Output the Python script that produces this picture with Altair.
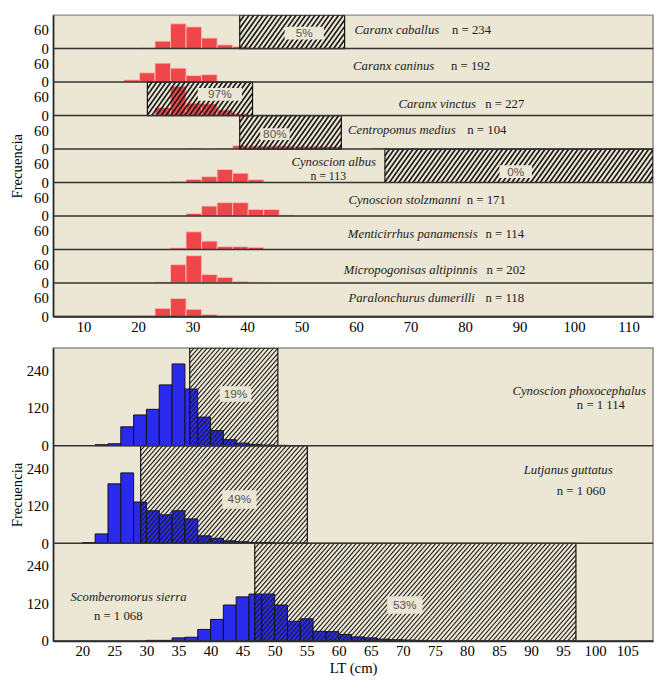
import altair as alt
import pandas as pd

FONT = "Liberation Serif"
SANS = "Liberation Sans"
BG = "#ece6d4"

# ------------------------------------------------------------------
# Upper block: nine species, LT bins of 2.85 cm
top_species = ["Caranx caballus", "Caranx caninus", "Caranx vinctus", "Centropomus medius",
               "Cynoscion albus", "Cynoscion stolzmanni", "Menticirrhus panamensis",
               "Micropogonisas altipinnis", "Paralonchurus dumerilli"]
top_n = ["n = 234", "n = 192", "n = 227", "n = 104", "n = 113", "n = 171",
         "n = 114", "n = 202", "n = 118"]
top_first_bin = [20.25, 17.4, 23.1, 28.8, 25.95, 28.8, 25.95, 23.1, 20.25]
top_counts = [
    [2, 24, 80, 70, 34, 12, 6],
    [7, 30, 61, 45, 21, 24],
    [26, 95, 40, 38, 18, 6],
    [2, 0, 2, 11, 10, 10, 10, 9, 9, 8, 0, 0, 3],
    [3, 10, 19, 42, 30, 9],
    [8, 32, 43, 43, 21, 21, 3],
    [5, 57, 27, 9, 9, 7],
    [3, 59, 88, 27, 18, 5, 2],
    [2, 26, 58, 23, 6, 2],
]
top_bin_width = 2.85
top_box_row = [0, 2, 3, 4]
top_box_from = [38.65, 21.7, 38.65, 65.3]
top_box_to = [57.9, 41.0, 57.3, 114.5]
top_box_pct = ["5%", "97%", "80%", "0%"]
top_x_ticks = [10, 20, 30, 40, 50, 60, 70, 80, 90, 100, 110]
top_freq_ticks = [0, 60]

# Lower block: three species, LT bins of 2 cm
low_species = ["Cynoscion phoxocephalus", "Lutjanus guttatus", "Scomberomorus sierra"]
low_n = ["n = 1 114", "n = 1 060", "n = 1 068"]
low_first_bin = [22, 20, 30]
low_counts = [
    [3, 6, 60, 98, 116, 194, 261, 181, 91, 48, 19, 8, 4, 2, 1],
    [2, 30, 190, 225, 132, 104, 91, 104, 78, 24, 16, 8, 5, 3, 2],
    [2, 2, 10, 12, 37, 69, 115, 141, 150, 150, 115, 63, 71, 31, 30, 21, 13, 10, 6, 4, 3, 2],
]
low_bin_width = 2
low_box_row = [0, 1, 2]
low_box_from = [36.75, 29.1, 46.9]
low_box_to = [50.5, 55.1, 97.0]
low_box_pct = ["19%", "49%", "53%"]
low_x_ticks = list(range(20, 106, 5))
low_freq_ticks = [0, 120, 240]

# ------------------------------------------------------------------
# Layout (label anchors in axis units: LT, frequency above row baseline)
top_name_at = [(67.5, 60), (66.9, 51), (74.9, 38), (68.4, 60), (55.9, 66),
               (68.9, 51), (70.4, 51), (70.0, 41), (70.2, 60)]
top_n_at = [(81.2, 60), (81.0, 51), (87.3, 38), (84.0, 60), (54.9, 22),
            (83.9, 51), (87.3, 51), (87.5, 41), (87.3, 60)]
top_pct_at = [(50.5, 50), (35.0, 68), (45.1, 48), (89.3, 35)]
top_pct_box = [(40, 13), (45, 13), (30, 12), (33, 13)]   # label box, px

low_name_at = [(97.5, 175), (95.8, 234), (27.2, 140)]
low_n_at = [(100.9, 128), (97.8, 168), (25.6, 81)]
low_pct_at = [(43.9, 165), (44.5, 140), (70.3, 115)]
low_pct_box = [(32, 16), (35, 19), (36, 18)]


def hatch_segments(lo, hi, off, px_x, row_px, R, spacing, slope):
    W = (hi - lo) * px_x
    H = row_px
    segs = []
    c = -H / slope
    while c < W:
        u0 = max(0.0, c)
        u1 = min(W, c + H / slope)
        if u1 > u0:
            segs.append(dict(x=lo + u0 / px_x, y=off + slope * (u0 - c) / H * R,
                             x2=lo + u1 / px_x, y2=off + slope * (u1 - c) / H * R))
        c += spacing
    return segs


def make_block(species, ns, first_bin, counts, binw, box_row, box_from, box_to, box_pct,
               name_at, n_at, pct_at, pct_box, R, W, row_px, xdom, xticks, yticks,
               bar_fill, bar_stroke, bar_sw, hatch_space, hatch_slope, hatch_w,
               xtitle, ytitle_pad, n_sizes, xlabel_pad, xtitle_pad):
    nrows = len(species)
    H = row_px * nrows
    px_x = W / (xdom[1] - xdom[0])
    px_y = row_px / R
    offs = [(nrows - 1 - i) * R for i in range(nrows)]

    bar_rows = []
    for i, (s0, cs) in enumerate(zip(first_bin, counts)):
        for k, c in enumerate(cs):
            if c > 0:
                x = s0 + k * binw
                bar_rows.append(dict(x=x, x2=x + binw, y=offs[i], y2=offs[i] + c))

    box_rows, hatch_rows, bg_rows, pct_rows = [], [], [], []
    for j, r in enumerate(box_row):
        box_rows.append(dict(x=box_from[j], x2=box_to[j], y=offs[r], y2=offs[r] + R))
        hatch_rows += hatch_segments(box_from[j], box_to[j], offs[r], px_x, row_px, R,
                                     hatch_space, hatch_slope)
        w, h = pct_box[j]
        cx, cy = pct_at[j][0], offs[r] + pct_at[j][1]
        bg_rows.append(dict(x=cx - w / 2 / px_x, x2=cx + w / 2 / px_x,
                            y=cy - h / 2 / px_y, y2=cy + h / 2 / px_y))
        pct_rows.append(dict(x=cx, y=cy, t=box_pct[j]))

    name_rows = [dict(x=name_at[i][0], y=offs[i] + name_at[i][1], t=species[i]) for i in range(nrows)]
    n_rows = [dict(x=n_at[i][0], y=offs[i] + n_at[i][1], t=ns[i], s=n_sizes[i]) for i in range(nrows)]

    xs = alt.Scale(domain=list(xdom), nice=False, zero=False)
    ys = alt.Scale(domain=[0, nrows * R], nice=False, zero=False)
    xaxis = alt.Axis(values=xticks, ticks=False, grid=False, labelFont=FONT, labelFontSize=15,
                     labelColor="black", labelPadding=xlabel_pad, domainColor="#222",
                     domainWidth=1.5, title=xtitle, titleFont=FONT, titleFontSize=15,
                     titleFontWeight="normal", titleColor="black", titlePadding=xtitle_pad,
                     labelFlush=False)
    yvals = [o + t for o in offs for t in yticks]
    yaxis = alt.Axis(values=yvals, labelExpr=f"datum.value % {R}", ticks=False, grid=False,
                     labelFont=FONT, labelFontSize=15, labelColor="black", labelPadding=5,
                     domainColor="#222", domainWidth=1.5, title="Frecuencia", titleFont=FONT,
                     titleFontSize=15, titleFontWeight="normal", titleColor="black",
                     titlePadding=ytitle_pad, labelFlush=False)

    def X(f="x"):
        return alt.X(f"{f}:Q", scale=xs, axis=xaxis)

    def Y(f="y"):
        return alt.Y(f"{f}:Q", scale=ys, axis=yaxis)

    bars = alt.Chart(pd.DataFrame(bar_rows)).mark_rect(
        fill=bar_fill, stroke=bar_stroke, strokeWidth=bar_sw).encode(
        x=X(), x2="x2", y=Y(), y2="y2")
    hatch = alt.Chart(pd.DataFrame(hatch_rows)).mark_rule(
        color="#1a1a1a", strokeWidth=hatch_w, clip=True).encode(x=X(), x2="x2", y=Y(), y2="y2")
    boxes = alt.Chart(pd.DataFrame(box_rows)).mark_rect(
        fillOpacity=0, stroke="#111", strokeWidth=1.2, clip=True).encode(
        x=X(), x2="x2", y=Y(), y2="y2")
    seps = alt.Chart(pd.DataFrame({"y": offs})).mark_rule(
        color="#333", strokeWidth=1.5).encode(y=Y())
    bgs = alt.Chart(pd.DataFrame(bg_rows)).mark_rect(
        fill=BG, opacity=1, strokeWidth=0).encode(x=X(), x2="x2", y=Y(), y2="y2")
    pcts = alt.Chart(pd.DataFrame(pct_rows)).mark_text(
        font=SANS, fontSize=12, color="#555").encode(x=X(), y=Y(), text="t:N")
    names = alt.Chart(pd.DataFrame(name_rows)).mark_text(
        font=FONT, fontSize=13, fontStyle="italic", color="#222").encode(x=X(), y=Y(), text="t:N")
    nlab = alt.Chart(pd.DataFrame(n_rows)).mark_text(
        font=FONT, color="#222").encode(x=X(), y=Y(), text="t:N",
                                        size=alt.Size("s:Q", scale=None))

    return alt.layer(bars, hatch, boxes, seps, bgs, pcts, names, nlab).properties(
        width=W, height=H)


top = make_block(top_species, top_n, top_first_bin, top_counts, top_bin_width,
                 top_box_row, top_box_from, top_box_to, top_box_pct,
                 top_name_at, top_n_at, top_pct_at, top_pct_box,
                 R=108, W=611, row_px=34.1, xdom=(4.41, 114.5), xticks=top_x_ticks,
                 yticks=top_freq_ticks, bar_fill="#ef4649", bar_stroke="#f3c9bd", bar_sw=0.8,
                 hatch_space=4.8, hatch_slope=1.4, hatch_w=1.7, xtitle="", ytitle_pad=9,
                 n_sizes=[13, 13, 13, 13, 12, 13, 13, 13, 13], xlabel_pad=3, xtitle_pad=0)

low = make_block(low_species, low_n, low_first_bin, low_counts, low_bin_width,
                 low_box_row, low_box_from, low_box_to, low_box_pct,
                 low_name_at, low_n_at, low_pct_at, low_pct_box,
                 R=312, W=611, row_px=99.5, xdom=(15.45, 109.03), xticks=low_x_ticks,
                 yticks=low_freq_ticks, bar_fill="#2a2aee", bar_stroke="#111", bar_sw=1,
                 hatch_space=4.5, hatch_slope=1.15, hatch_w=1.1, xtitle="LT (cm)", ytitle_pad=2,
                 n_sizes=[13, 13, 13], xlabel_pad=3, xtitle_pad=2)

chart = alt.vconcat(top, low, spacing=12).properties(
    padding={"left": 0, "top": 0, "right": 0, "bottom": 0}, background="white",
    autosize=alt.AutoSizeParams(type="pad", contains="content")
).configure(padding={"left": 0, "top": 0, "right": 0, "bottom": 0}).configure_view(
    fill=BG, stroke="#8a8a8a", strokeWidth=1.5)

chart.save("out.html", embed_options={"renderer": "svg", "actions": False})
